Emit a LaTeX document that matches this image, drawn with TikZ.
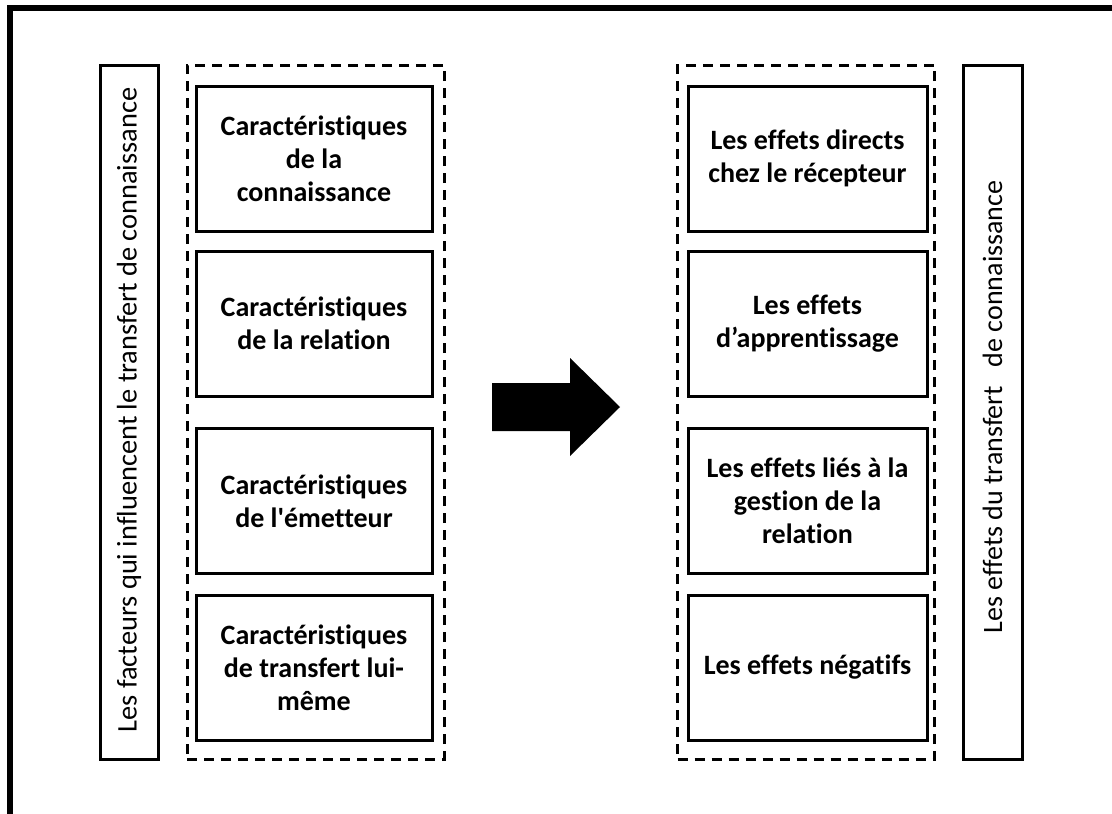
\documentclass[tikz,border=0pt]{standalone}
\usepackage{fontspec}
\setmainfont{Carlito}[Ligatures={NoCommon}]
\newcommand{\straightquote}{{\XeTeXglyph\XeTeXcharglyph"0027\relax}}
\begin{document}
\begin{tikzpicture}[x=1pt,y=-1pt,
  frame/.style={line width=6pt},
  sidebox/.style={draw, line width=3pt, minimum width=58pt, minimum height=694pt, inner sep=0pt},
  sidelabel/.style={rotate=90, inner sep=0pt, font=\fontsize{28.4}{33}\selectfont},
  groupbox/.style={draw, dashed, dash pattern=on 10pt off 7pt, line width=3pt,
    minimum width=257pt, minimum height=694pt, inner sep=0pt},
  itembox/.style={draw, line width=3pt, minimum height=145pt, inner sep=0pt,
    align=center, font=\bfseries\fontsize{28}{33}\selectfont},
  leftitem/.style={itembox, minimum width=236pt},
  rightitem/.style={itembox, minimum width=239pt}]
\useasboundingbox (0,0) rectangle (1112,814);

% outer frame (top and left edges)
\draw[frame] (10,8) -- (1112,8);
\draw[frame] (10,5) -- (10,814);

% left column
\node[sidebox] (factors) at (129,412) {};
\node[sidelabel] (factorslabel) at (129,410) {Les facteurs qui influencent le transfert de connaissance};
\node[groupbox] (lgroup) at (315.5,412) {};
\node[leftitem] (l1) at (314,158.5) {Caractéristiques\\de la\\connaissance};
\node[leftitem] (l2) at (314,323.5) {Caractéristiques\\de la relation};
\node[leftitem] (l3) at (314,501) {Caractéristiques\\de l\straightquote émetteur};
\node[leftitem] (l4) at (314,667.5) {Caractéristiques\\de transfert lui-\\même};

% block arrow between the two groups
\fill (492,383) -- (570,383) -- (570,358) -- (620,407) -- (570,456) -- (570,431) -- (492,431) -- cycle;

% right column
\node[groupbox] (rgroup) at (806,412) {};
\node[rightitem] (r1) at (807.5,158.5) {Les effets directs\\chez le récepteur};
\node[rightitem] (r2) at (807.5,323.5) {Les effets\\d’apprentissage};
\node[rightitem] (r3) at (807.5,501) {Les effets liés à la\\gestion de la\\relation};
\node[rightitem] (r4) at (807.5,667.5) {Les effets négatifs};
\node[sidebox, minimum width=59pt] (effects) at (992.5,412) {};
\node[sidelabel, font=\fontsize{28}{33}\selectfont] (effectslabel) at (992.5,407) {Les effets du transfert~~~de connaissance};
\end{tikzpicture}
\end{document}
